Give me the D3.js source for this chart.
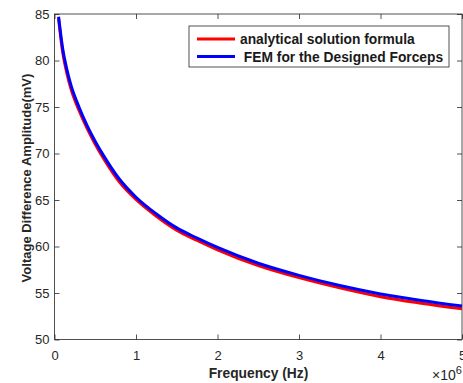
<!DOCTYPE html>
<html>
<head>
<meta charset="utf-8">
<script src="https://cdn.jsdelivr.net/npm/d3@7"></script>
<style>
  body { margin: 0; background: #fff; }
  text { font-family: "Liberation Sans", Arial, sans-serif; }
</style>
</head>
<body>
<div id="chart"></div>
<script>
// frequency in units of 1e6 Hz, amplitude in mV
const freq = [0.05, 0.1, 0.15, 0.2, 0.3, 0.4, 0.5, 0.6, 0.8, 1.0, 1.25, 1.5, 1.75, 2.0, 2.5, 3.0, 3.5, 4.0, 4.5, 5.0];
const analytical = [84.5, 80.9, 78.7, 77.0, 74.65, 72.7, 71.0, 69.5, 66.9, 65.05, 63.25, 61.75, 60.65, 59.65, 57.95, 56.65, 55.55, 54.6, 53.9, 53.3];
const fem = [84.7, 81.3, 79.1, 77.4, 75.0, 73.0, 71.3, 69.8, 67.2, 65.3, 63.5, 62.0, 60.9, 59.9, 58.2, 56.9, 55.8, 54.9, 54.2, 53.6];
const xTicks = [0, 1, 2, 3, 4, 5];
const yTicks = [50, 55, 60, 65, 70, 75, 80, 85];
const seriesNames = ["analytical solution formula", " FEM for the Designed Forceps"];
const seriesColors = ["#ff0000", "#0000ff"];

const width = 463, height = 383,
      margin = ({ top: 14, right: 1, bottom: 43.5, left: 54.5 });

let svg = d3.select("#chart")
    .append("svg")
    .attr("width", width)
    .attr("height", height)
    .attr("viewBox", [0, 0, width, height]);

let x = d3.scaleLinear()
    .domain([0, 5])
    .range([margin.left, width - margin.right]);

let y = d3.scaleLinear()
    .domain([50, 85])
    .range([height - margin.bottom, margin.top]);

const axisColor = "#262626";

function styleAxis(g) {
    g.select(".domain").remove();
    g.selectAll(".tick line").attr("stroke", axisColor).attr("stroke-width", 0.8);
    g.selectAll(".tick text").attr("fill", axisColor).style("font-size", "13px");
}

// bottom axis, ticks point inwards
svg.append("g")
    .attr("transform", `translate(0,${y(50)})`)
    .call(d3.axisBottom(x).tickValues(xTicks).tickSizeInner(-5).tickSizeOuter(0).tickPadding(11).tickFormat(d3.format("d")))
    .call(styleAxis);

svg.append("g")
    .attr("transform", `translate(0,${y(85)})`)
    .call(d3.axisTop(x).tickValues(xTicks).tickSizeInner(-5).tickSizeOuter(0).tickFormat(""))
    .call(styleAxis);

svg.append("g")
    .attr("transform", `translate(${x(0)},0)`)
    .call(d3.axisLeft(y).tickValues(yTicks).tickSizeInner(-5).tickSizeOuter(0).tickPadding(5))
    .call(styleAxis);

svg.append("g")
    .attr("transform", `translate(${x(5)},0)`)
    .call(d3.axisRight(y).tickValues(yTicks).tickSizeInner(-5).tickSizeOuter(0).tickFormat(""))
    .call(styleAxis);

// axes box
svg.append("rect")
    .attr("x", x(0))
    .attr("y", y(85))
    .attr("width", x(5) - x(0))
    .attr("height", y(50) - y(85))
    .attr("fill", "none")
    .attr("stroke", axisColor)
    .attr("stroke-width", 0.8);

// curves
let line = d3.line()
    .x(d => x(d[0]))
    .y(d => y(d[1]))
    .curve(d3.curveMonotoneX);

[analytical, fem].forEach((vals, i) => {
    svg.append("path")
        .datum(freq.map((f, j) => [f, vals[j]]))
        .attr("fill", "none")
        .attr("stroke", seriesColors[i])
        .attr("stroke-width", 3)
        .attr("d", line);
});

// legend
let legend = svg.append("g").attr("transform", "translate(189,26)");
legend.append("rect")
    .attr("width", 260)
    .attr("height", 41)
    .attr("fill", "#fff")
    .attr("stroke", axisColor)
    .attr("stroke-width", 0.8);

seriesNames.forEach((name, i) => {
    let yy = 13 + i * 17.5;
    legend.append("line")
        .attr("x1", 8).attr("x2", 46)
        .attr("y1", yy).attr("y2", yy)
        .attr("stroke", seriesColors[i])
        .attr("stroke-width", 3);
    legend.append("text")
        .attr("x", 51)
        .attr("y", yy + 5)
        .attr("xml:space", "preserve")
        .style("white-space", "pre")
        .style("font-size", "13.8px")
        .style("font-weight", "bold")
        .attr("fill", "#1a1a1a")
        .text(name);
});

// axis titles
svg.append("text")
    .attr("x", 258.5)
    .attr("y", 377.5)
    .attr("text-anchor", "middle")
    .style("font-size", "13.8px")
    .style("font-weight", "bold")
    .attr("fill", axisColor)
    .text("Frequency (Hz)");

svg.append("text")
    .attr("transform", "translate(31,178) rotate(-90)")
    .attr("text-anchor", "middle")
    .style("font-size", "13px")
    .style("font-weight", "bold")
    .attr("fill", axisColor)
    .text("Voltage Difference Amplitude(mV)");

// exponent label
let expo = svg.append("text")
    .attr("x", 432)
    .attr("y", 380)
    .style("font-size", "14px")
    .attr("fill", axisColor);
expo.append("tspan").text("\u00d710");
expo.append("tspan").attr("dy", -6).style("font-size", "11px").text("6");
</script>
</body>
</html>
